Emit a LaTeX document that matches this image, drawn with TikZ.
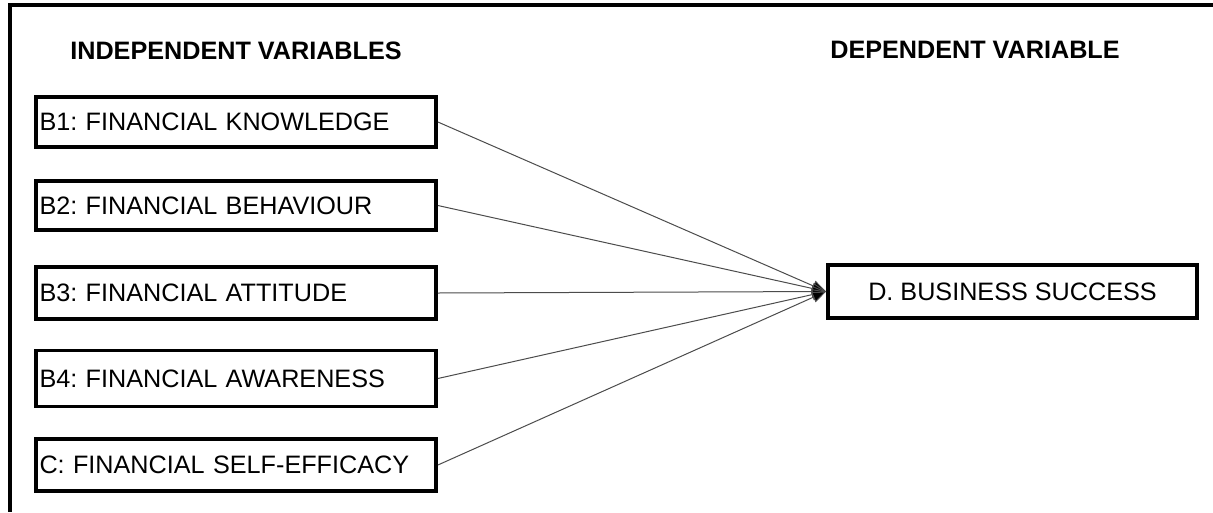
\documentclass[tikz,border=0pt]{standalone}
\usepackage{fontspec}
\setmainfont{Liberation Sans}
\usetikzlibrary{arrows.meta}
\frenchspacing
\begin{document}
\begin{tikzpicture}[x=1pt,y=-1pt,
  varbox/.style={draw=black, line width=3.8pt, rectangle, inner sep=0pt,
    minimum width=400pt, text width=393pt, align=left,
    font=\fontsize{25.2}{29}\selectfont},
  depbox/.style={draw=black, line width=3.8pt, rectangle, inner sep=0pt,
    minimum width=369pt, minimum height=53pt, align=center,
    font=\fontsize{25.2}{29}\selectfont},
  header/.style={font=\bfseries\fontsize{25.2}{28}\selectfont, inner sep=0pt},
  conn/.style={draw=black!70, line width=1pt, -{Triangle[length=14pt,width=11pt,fill=black]}},
  frame/.style={line width=3.5pt}]
\useasboundingbox (0,0) rectangle (1213,512);
\fill[white] (0,0) rectangle (1213,512);
\coordinate (ftl) at (10,5);
\coordinate (ftr) at (1213,5);
\coordinate (fbl) at (10,512);
\draw[frame] (ftr) -- (ftl) -- (fbl);
\node[header] (hind) at (236,51) {INDEPENDENT VARIABLES};
\node[header] (hdep) at (975,50) {DEPENDENT VARIABLE};
\node[varbox, minimum height=50pt] (b1) at (236,122) {B1: FINANCIAL KNOWLEDGE};
\node[varbox, minimum height=49pt] (b2) at (236,205.5) {B2: FINANCIAL BEHAVIOUR};
\node[varbox, minimum height=52pt] (b3) at (236,293) {B3: FINANCIAL ATTITUDE};
\node[varbox, minimum height=56pt] (b4) at (236,378.5) {B4: FINANCIAL AWARENESS};
\node[varbox, minimum height=52pt] (c) at (236,465) {C: FINANCIAL SELF-EFFICACY};
\node[depbox] (d) at (1012.5,291.5) {D. BUSINESS SUCCESS};
\draw[conn] (b1.east) -- (d.west);
\draw[conn] (b2.east) -- (d.west);
\draw[conn] (b3.east) -- (d.west);
\draw[conn] (b4.east) -- (d.west);
\draw[conn] (c.east) -- (d.west);
\end{tikzpicture}
\end{document}
